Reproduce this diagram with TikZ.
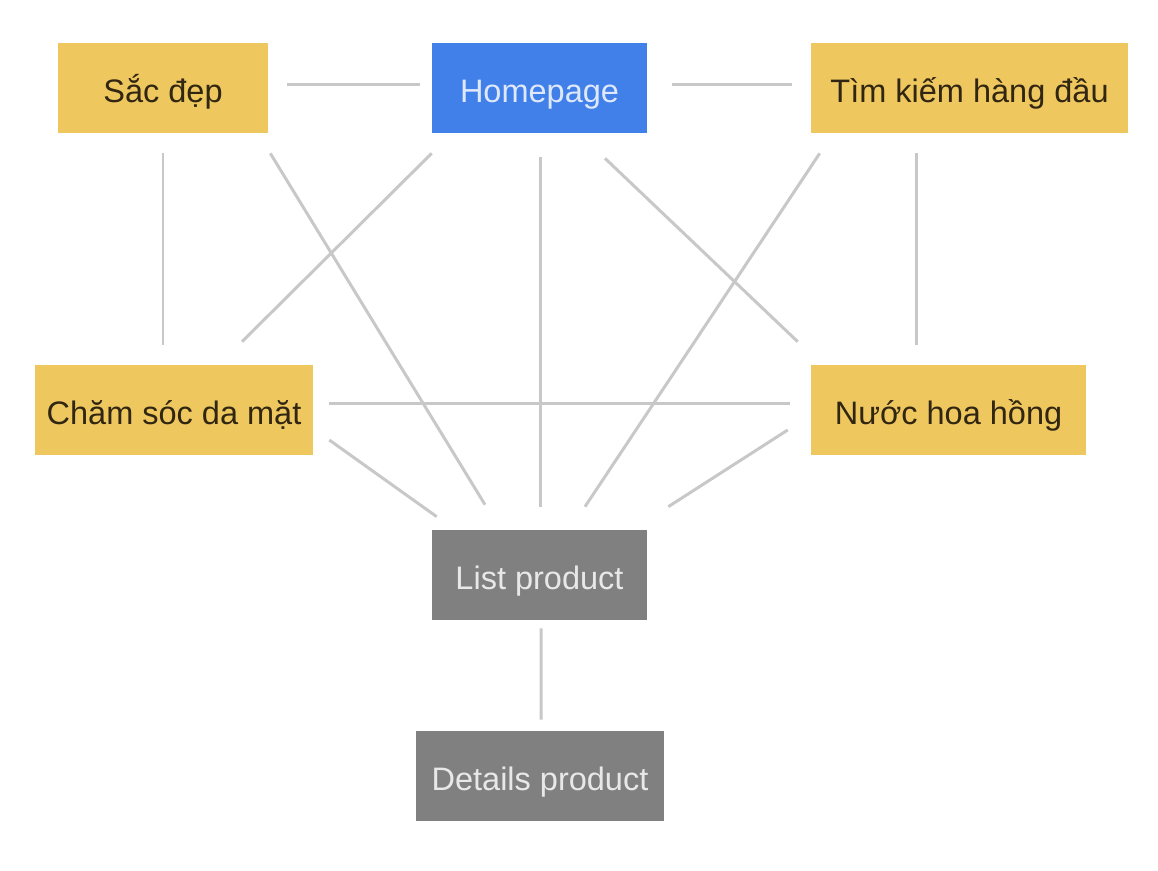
\documentclass[tikz,border=0pt]{standalone}
\usepackage{fontspec}
\setmainfont{Liberation Sans}
\usetikzlibrary{calc}
\definecolor{boxyellow}{RGB}{238,199,94}
\definecolor{boxblue}{RGB}{64,128,232}
\definecolor{boxgray}{RGB}{128,128,128}
\definecolor{linkgray}{RGB}{200,200,200}
\definecolor{darktext}{RGB}{48,38,18}
\definecolor{bluetext}{RGB}{222,232,250}
\definecolor{graytext}{RGB}{232,232,232}
\tikzset{
  box/.style={rectangle, inner sep=0pt, minimum height=1.8cm,
    text height=17pt, text depth=0pt,
    font=\fontsize{18.5}{22}\selectfont},
  ybox/.style={box, fill=boxyellow, text=darktext},
  bbox/.style={box, fill=boxblue, text=bluetext},
  gbox/.style={box, fill=boxgray, text=graytext},
  link/.style={draw=linkgray, line width=1.7pt}
}
\begin{document}
\begin{tikzpicture}[x=0.02cm,y=-0.02cm]
\useasboundingbox (0,0) rectangle (1158,870);
\fill[white] (0,0) rectangle (1158,870);
\node[ybox, minimum width=4.2cm] (sac) at (163,88) {Sắc đẹp};
\node[bbox, minimum width=4.3cm] (home) at (539.5,88) {Homepage};
\node[ybox, minimum width=6.34cm] (tim) at (969.5,88) {Tìm kiếm hàng đầu};
\node[ybox, minimum width=5.56cm] (cham) at (174,410) {Chăm sóc da mặt};
\node[ybox, minimum width=5.5cm] (nuoc) at (948.5,410) {Nước hoa hồng};
\node[gbox, minimum width=4.3cm] (list) at (539.5,575) {List product};
\node[gbox, minimum width=4.96cm] (det) at (540,776) {Details product};

\draw[link] ($(sac.east)+(19,-4)$) -- ($(home.west)+(-12,-4)$);
\draw[link] ($(home.east)+(25,-4)$) -- ($(tim.west)+(-19,-4)$);
\draw[link] ($(sac.south)+(0,20)$) -- ($(cham.north)+(-11,-20)$);
\draw[link] ($(sac.south east)+(2,20)$) -- ($(list.north)+(-54.5,-25)$);
\draw[link] ($(home.south west)+(0,20)$) -- ($(cham.north)+(68,-23)$);
\draw[link] ($(home.south)+(0.5,24)$) -- ($(list.north)+(0.5,-23)$);
\draw[link] ($(home.south)+(65.5,25)$) -- ($(nuoc.north west)+(-13,-23)$);
\draw[link] ($(tim.south west)+(9,20)$) -- ($(list.north)+(45.5,-23)$);
\draw[link] ($(tim.south)+(-53.5,20)$) -- ($(nuoc.north)+(-32.5,-20)$);
\draw[link] ($(cham.east)+(16,-7)$) -- ($(nuoc.west)+(-21,-7)$);
\draw[link] ($(cham.east)+(16,30)$) -- ($(list.north west)+(5,-13)$);
\draw[link] ($(nuoc.west)+(-23,20)$) -- ($(list.north east)+(21,-23)$);
\draw[link] ($(list.south)+(1.5,8)$) -- ($(det.north)+(1,-11)$);
\end{tikzpicture}
\end{document}
